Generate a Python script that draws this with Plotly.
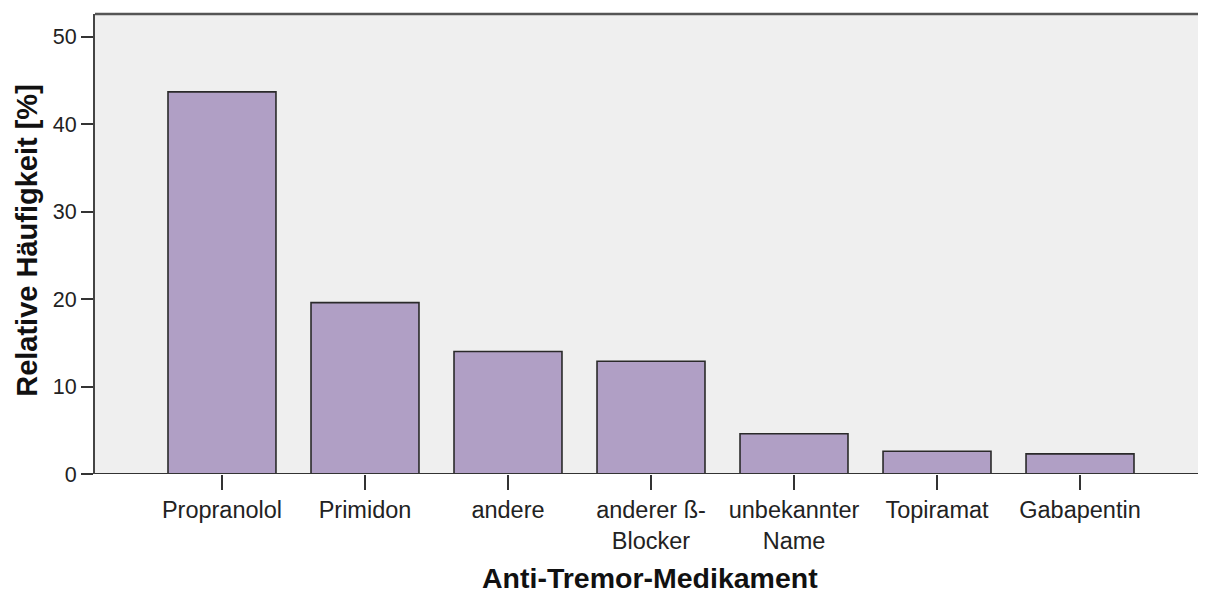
import plotly.graph_objects as go

categories = ["Propranolol", "Primidon", "andere", "anderer ß-<br>Blocker",
              "unbekannter<br>Name", "Topiramat", "Gabapentin"]
values = [43.7, 19.6, 14.0, 12.9, 4.6, 2.6, 2.3]
y_ticks = [0, 10, 20, 30, 40, 50]
x_title = "Anti-Tremor-Medikament"
y_title = "Relative Häufigkeit [%]"

fig = go.Figure()
fig.add_trace(go.Bar(
    x=list(range(len(categories))), y=values, width=0.755,
    marker=dict(color="#B09FC5", line=dict(color="#2a2a2a", width=1.6)),
))

font_fam = "Liberation Sans, Arial, sans-serif"
# page body has an 8px default margin; compensate in figure size/margins
fig.update_layout(
    width=1198, height=589,
    margin=dict(l=87, r=1, t=6, b=123, autoexpand=False),
    paper_bgcolor="white", plot_bgcolor="#EFEFEF",
    showlegend=False,
    font=dict(family=font_fam, size=21, color="#222"),
    xaxis=dict(
        range=[-0.888, 6.874], tickmode="array",
        tickvals=list(range(len(categories))), ticktext=categories,
        ticks="outside", ticklen=15, tickwidth=1.5, tickcolor="#333",
        showgrid=False, zeroline=False, showline=False,
        tickfont=dict(size=23.5, color="#222"),
    ),
    yaxis=dict(
        range=[0, 52.6], tickmode="array", tickvals=y_ticks,
        ticks="outside", ticklen=12, tickwidth=1.5, tickcolor="#333",
        showgrid=False, zeroline=False, showline=True, linecolor="#444", linewidth=2,
        tickfont=dict(size=21.5, color="#222"),
    ),
    annotations=[
        dict(text=f"<b>{x_title}</b>", xref="paper", yref="paper", x=0.5, y=-0.227,
             xanchor="center", yanchor="middle", showarrow=False, borderpad=0,
             font=dict(size=28.5, color="#111")),
        dict(text=f"<b>{y_title}</b>", xref="paper", yref="paper", x=-0.0613, y=0.509,
             xanchor="center", yanchor="middle", textangle=-90, showarrow=False,
             font=dict(size=29, color="#111")),
    ],
    shapes=[
        dict(type="line", xref="paper", yref="paper", x0=0, x1=1, y0=1, y1=1,
             line=dict(color="#555", width=2.5)),
        dict(type="line", xref="paper", yref="paper", x0=1, x1=1, y0=0, y1=1,
             line=dict(color="#aaa", width=1.5)),
        dict(type="line", xref="paper", yref="y", x0=0, x1=1, y0=0, y1=0,
             line=dict(color="#333", width=2)),
    ],
)
fig.write_html("out.html")
